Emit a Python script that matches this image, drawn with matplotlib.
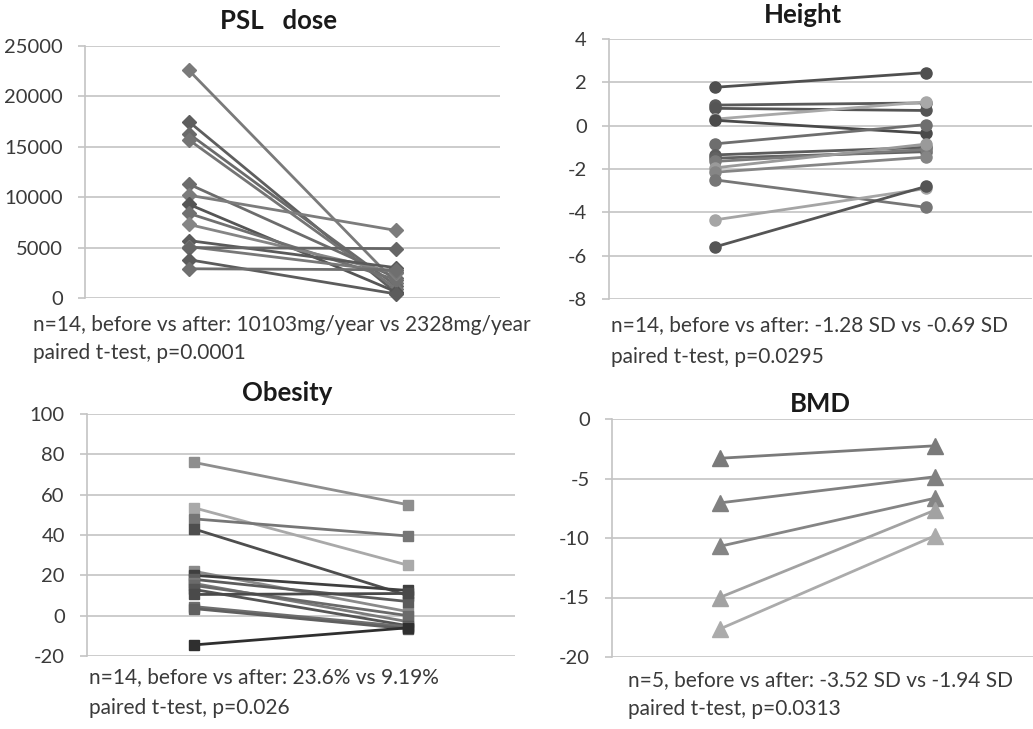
import matplotlib
matplotlib.use("Agg")
import matplotlib.pyplot as plt

plt.rcParams["font.family"] = ["Lato", "DejaVu Sans"]

# ---- data ----
psl_before = [22600, 17500, 16300, 15700, 11300, 10200, 9300, 8400, 7300, 5700, 5100, 5000, 3800, 2900]
psl_after = [1500, 500, 1200, 900, 2000, 6700, 600, 1800, 2500, 3000, 2600, 4900, 400, 2800]
psl_colors = ["#7a7a7a", "#5e5e5e", "#6a6a6a", "#747474", "#6c6c6c", "#7c7c7c", "#555555",
              "#707070", "#858585", "#5a5a5a", "#787878", "#666666", "#5c5c5c", "#6f6f6f"]

height_before = [1.77, 0.95, 0.8, 0.3, 0.25, -0.84, -1.35, -1.5, -1.65, -1.95, -2.15, -2.5, -4.35, -5.6]
height_after = [2.45, 1.05, 0.7, 1.1, -0.35, 0.05, -1.0, -1.2, -1.1, -0.85, -1.45, -3.77, -2.9, -2.8]
height_colors = ["#4f4f4f", "#5a5a5a", "#555555", "#a8a8a8", "#4a4a4a", "#6e6e6e", "#5c5c5c",
                 "#626262", "#7a7a7a", "#9a9a9a", "#858585", "#767676", "#a5a5a5", "#555555"]

obesity_before = [76, 53.5, 48, 43, 22, 20, 18, 16, 15, 13, 10.5, 4.5, 3.5, -14.5]
obesity_after = [55, 25, 39.5, 10, 2, 12.5, 7, -3, 0, -5, 11, -5.5, -6.5, -6]
obesity_colors = ["#8e8e8e", "#a9a9a9", "#767676", "#4e4e4e", "#8a8a8a", "#3f3f3f", "#5c5c5c",
                  "#7a7a7a", "#6a6a6a", "#555555", "#4a4a4a", "#6e6e6e", "#5f5f5f", "#2f2f2f"]

bmd_before = [-3.3, -7.05, -10.7, -15.0, -17.65]
bmd_after = [-2.25, -4.85, -6.65, -7.65, -9.8]
bmd_colors = ["#7a7a7a", "#808080", "#858585", "#a2a2a2", "#ababab"]

W, H = 1033, 729
fig = plt.figure(figsize=(W / 100, H / 100), dpi=100)

TXT = "#3a3a3a"
GRID = "#c4c4c4"


def px_axes(left, top, right, bottom):
    return fig.add_axes([left / W, 1 - bottom / H, (right - left) / W, (bottom - top) / H])


def draw_panel(ax, before, after, colors, marker, ms, ylim, step):
    for b, a, c in zip(before, after, colors):
        ax.plot([1, 2], [b, a], color=c, lw=2, marker=marker, ms=ms,
                markerfacecolor=c, markeredgecolor=c, clip_on=False, zorder=3)
    ax.set_xlim(0.5, 2.5)
    ax.set_ylim(*ylim)
    ticks = list(range(ylim[0], ylim[1] + 1, step))
    ax.set_yticks(ticks)
    ax.set_yticklabels([str(t) for t in ticks])
    ax.set_xticks([])
    for t in ticks:
        ax.axhline(t, color=GRID, lw=1.2, zorder=1)
    for s in ["top", "right", "bottom"]:
        ax.spines[s].set_visible(False)
    ax.spines["left"].set_color(GRID)
    ax.spines["left"].set_linewidth(1.2)
    ax.tick_params(axis="y", length=5, width=1.2, color=GRID, pad=11,
                   labelsize=14.5, labelcolor=TXT)
    ax.set_facecolor("none")


ax1 = px_axes(85, 46, 500, 298)
draw_panel(ax1, psl_before, psl_after, psl_colors, "D", 7, (0, 25000), 5000)

ax2 = px_axes(609, 39, 1032, 299)
draw_panel(ax2, height_before, height_after, height_colors, "o", 8, (-8, 4), 2)

ax3 = px_axes(87, 414, 515, 656)
draw_panel(ax3, obesity_before, obesity_after, obesity_colors, "s", 7.5, (-20, 100), 20)

ax4 = px_axes(612, 419, 1043, 657)
draw_panel(ax4, bmd_before, bmd_after, bmd_colors, "^", 11, (-20, 0), 5)


def ftext(x, y, s, **kw):
    kw.setdefault("color", TXT)
    fig.text(x / W, 1 - y / H, s, **kw)


# titles
TITLE = "#1a1a1a"
title_size = 18.5
ftext(278, 21, "PSL   dose", ha="center", va="center", fontsize=title_size, fontweight="bold", color=TITLE)
ftext(803, 15, "Height", ha="center", va="center", fontsize=title_size, fontweight="bold", color=TITLE)
ftext(287, 393, "Obesity", ha="center", va="center", fontsize=title_size, fontweight="bold", color=TITLE)
ftext(820, 404, "BMD", ha="center", va="center", fontsize=title_size, fontweight="bold", color=TITLE)

# annotations
note_size = 15
ftext(33, 325, "n=14, before vs after: 10103mg/year vs 2328mg/year", va="center", fontsize=note_size)
ftext(33, 353, "paired t-test, p=0.0001", va="center", fontsize=note_size)
ftext(611, 325, "n=14, before vs after: -1.28 SD vs -0.69 SD", va="center", fontsize=note_size)
ftext(611, 357, "paired t-test, p=0.0295", va="center", fontsize=note_size)
ftext(89, 677, "n=14, before vs after: 23.6% vs 9.19%", va="center", fontsize=note_size)
ftext(89, 708, "paired t-test, p=0.026", va="center", fontsize=note_size)
ftext(628, 680, "n=5, before vs after: -3.52 SD vs -1.94 SD", va="center", fontsize=note_size)
ftext(628, 709, "paired t-test, p=0.0313", va="center", fontsize=note_size)

fig.savefig("out.png", dpi=100, facecolor="white")
